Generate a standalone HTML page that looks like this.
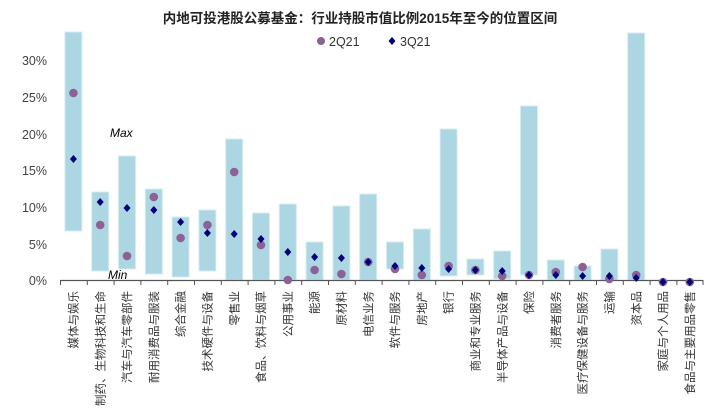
<!DOCTYPE html>
<html><head><meta charset="utf-8"><style>
body{margin:0;background:#fff;}
svg{display:block;font-family:"Liberation Sans","Noto Sans CJK SC",sans-serif;}
</style></head><body>
<svg width="720" height="417" viewBox="0 0 720 417">
<text x="360" y="23" text-anchor="middle" font-size="13.5" font-weight="bold" fill="#222">内地可投港股公募基金：行业持股市值比例2015年至今的位置区间</text>
<circle cx="321" cy="41" r="4" fill="#8c6296"/>
<text x="329" y="46" font-size="12.5" fill="#333">2Q21</text>
<path d="M392 37 L395.5 41 L392 45 L388.5 41Z" fill="#00007a"/>
<text x="400" y="46" font-size="12.5" fill="#333">3Q21</text>
<g font-size="12.5" fill="#444" text-anchor="end">
<text x="47" y="65">30%</text><text x="47" y="102">25%</text><text x="47" y="139">20%</text>
<text x="47" y="175">15%</text><text x="47" y="212">10%</text><text x="47" y="249">5%</text><text x="47" y="285">0%</text>
</g>
<g fill="#abd6e2" stroke="#d4ecf2" stroke-width="1">
<rect x="64.9" y="32" width="17" height="199"/>
<rect x="91.7" y="192" width="17" height="79"/>
<rect x="118.5" y="156" width="17" height="113"/>
<rect x="145.3" y="189" width="17" height="85"/>
<rect x="172.1" y="217" width="17" height="60"/>
<rect x="198.9" y="210" width="17" height="61"/>
<rect x="225.7" y="139" width="17" height="141"/>
<rect x="252.5" y="213" width="17" height="67"/>
<rect x="279.3" y="204" width="17" height="76"/>
<rect x="306.1" y="242" width="17" height="38"/>
<rect x="332.9" y="206" width="17" height="74"/>
<rect x="359.7" y="194" width="17" height="86"/>
<rect x="386.5" y="242" width="17" height="27"/>
<rect x="413.3" y="229" width="17" height="51"/>
<rect x="440.1" y="129" width="17" height="147"/>
<rect x="466.9" y="259" width="17" height="16"/>
<rect x="493.7" y="251" width="17" height="28"/>
<rect x="520.5" y="106" width="17" height="169"/>
<rect x="547.3" y="260" width="17" height="20"/>
<rect x="574.1" y="266" width="17" height="14"/>
<rect x="600.9" y="249" width="17" height="31"/>
<rect x="627.7" y="33" width="17" height="247"/>
</g>
<path d="M60 280.5 H703" stroke="#555" stroke-width="1.2"/>
<g stroke="#555" stroke-width="1">
<path d="M60.5 280V285M87.3 280V285M114.1 280V285M140.9 280V285M167.7 280V285M194.5 280V285M221.3 280V285M248.1 280V285M274.9 280V285M301.7 280V285M328.5 280V285M355.3 280V285M382.1 280V285M408.9 280V285M435.7 280V285M462.5 280V285M489.3 280V285M516.1 280V285M542.9 280V285M569.7 280V285M596.5 280V285M623.3 280V285M650.1 280V285M676.9 280V285M703 280V285"/>
</g>
<g fill="#8c6296">
<circle cx="73.4" cy="93" r="4.3"/><circle cx="100.2" cy="225" r="4.3"/><circle cx="127" cy="256" r="4.3"/>
<circle cx="153.8" cy="197" r="4.3"/><circle cx="180.6" cy="238" r="4.3"/><circle cx="207.4" cy="225" r="4.3"/>
<circle cx="234.2" cy="172" r="4.3"/><circle cx="261" cy="245" r="4.3"/><circle cx="287.8" cy="280" r="4.3"/>
<circle cx="314.6" cy="270" r="4.3"/><circle cx="341.4" cy="274" r="4.3"/><circle cx="368.2" cy="262" r="4.3"/>
<circle cx="395" cy="269" r="4.3"/><circle cx="421.8" cy="275" r="4.3"/><circle cx="448.6" cy="266" r="4.3"/>
<circle cx="475.4" cy="270" r="4.3"/><circle cx="502.2" cy="276" r="4.3"/><circle cx="529" cy="275" r="4.3"/>
<circle cx="555.8" cy="272" r="4.3"/><circle cx="582.6" cy="267" r="4.3"/><circle cx="609.4" cy="279" r="4.3"/>
<circle cx="636.2" cy="275" r="4.3"/><circle cx="663" cy="282" r="4.3"/><circle cx="689.8" cy="282" r="4.3"/>
</g>
<g fill="#00007a">
<path d="M73.4 155l3.5 4-3.5 4-3.5-4z"/><path d="M100.2 198l3.5 4-3.5 4-3.5-4z"/><path d="M127 204l3.5 4-3.5 4-3.5-4z"/>
<path d="M153.8 206l3.5 4-3.5 4-3.5-4z"/><path d="M180.6 218l3.5 4-3.5 4-3.5-4z"/><path d="M207.4 229l3.5 4-3.5 4-3.5-4z"/>
<path d="M234.2 230l3.5 4-3.5 4-3.5-4z"/><path d="M261 235l3.5 4-3.5 4-3.5-4z"/><path d="M287.8 248l3.5 4-3.5 4-3.5-4z"/>
<path d="M314.6 253l3.5 4-3.5 4-3.5-4z"/><path d="M341.4 254l3.5 4-3.5 4-3.5-4z"/><path d="M368.2 258l3.5 4-3.5 4-3.5-4z"/>
<path d="M395 262l3.5 4-3.5 4-3.5-4z"/><path d="M421.8 264l3.5 4-3.5 4-3.5-4z"/><path d="M448.6 265l3.5 4-3.5 4-3.5-4z"/>
<path d="M475.4 266l3.5 4-3.5 4-3.5-4z"/><path d="M502.2 267l3.5 4-3.5 4-3.5-4z"/><path d="M529 271l3.5 4-3.5 4-3.5-4z"/>
<path d="M555.8 271l3.5 4-3.5 4-3.5-4z"/><path d="M582.6 272l3.5 4-3.5 4-3.5-4z"/><path d="M609.4 272l3.5 4-3.5 4-3.5-4z"/>
<path d="M636.2 274l3.5 4-3.5 4-3.5-4z"/><path d="M663 278l3.5 4-3.5 4-3.5-4z"/><path d="M689.8 278l3.5 4-3.5 4-3.5-4z"/>
</g>
<text x="110" y="137" font-size="12" font-style="italic" fill="#000">Max</text>
<text x="108" y="279" font-size="12" font-style="italic" fill="#000">Min</text>
<g font-size="11.5" fill="#333" text-anchor="end">
<text transform="translate(77.5,291) rotate(-90)">媒体与娱乐</text>
<text transform="translate(104.3,291) rotate(-90)">制药、生物科技和生命</text>
<text transform="translate(131.1,291) rotate(-90)">汽车与汽车零部件</text>
<text transform="translate(157.9,291) rotate(-90)">耐用消费品与服装</text>
<text transform="translate(184.7,291) rotate(-90)">综合金融</text>
<text transform="translate(211.5,291) rotate(-90)">技术硬件与设备</text>
<text transform="translate(238.3,291) rotate(-90)">零售业</text>
<text transform="translate(265.1,291) rotate(-90)">食品、饮料与烟草</text>
<text transform="translate(291.9,291) rotate(-90)">公用事业</text>
<text transform="translate(318.7,291) rotate(-90)">能源</text>
<text transform="translate(345.5,291) rotate(-90)">原材料</text>
<text transform="translate(372.3,291) rotate(-90)">电信业务</text>
<text transform="translate(399.1,291) rotate(-90)">软件与服务</text>
<text transform="translate(425.9,291) rotate(-90)">房地产</text>
<text transform="translate(452.7,291) rotate(-90)">银行</text>
<text transform="translate(479.5,291) rotate(-90)">商业和专业服务</text>
<text transform="translate(506.3,291) rotate(-90)">半导体产品与设备</text>
<text transform="translate(533.1,291) rotate(-90)">保险</text>
<text transform="translate(559.9,291) rotate(-90)">消费者服务</text>
<text transform="translate(586.7,291) rotate(-90)">医疗保健设备与服务</text>
<text transform="translate(613.5,291) rotate(-90)">运输</text>
<text transform="translate(640.3,291) rotate(-90)">资本品</text>
<text transform="translate(667.1,291) rotate(-90)">家庭与个人用品</text>
<text transform="translate(693.9,291) rotate(-90)">食品与主要用品零售</text>
</g>
</svg>
</body></html>
